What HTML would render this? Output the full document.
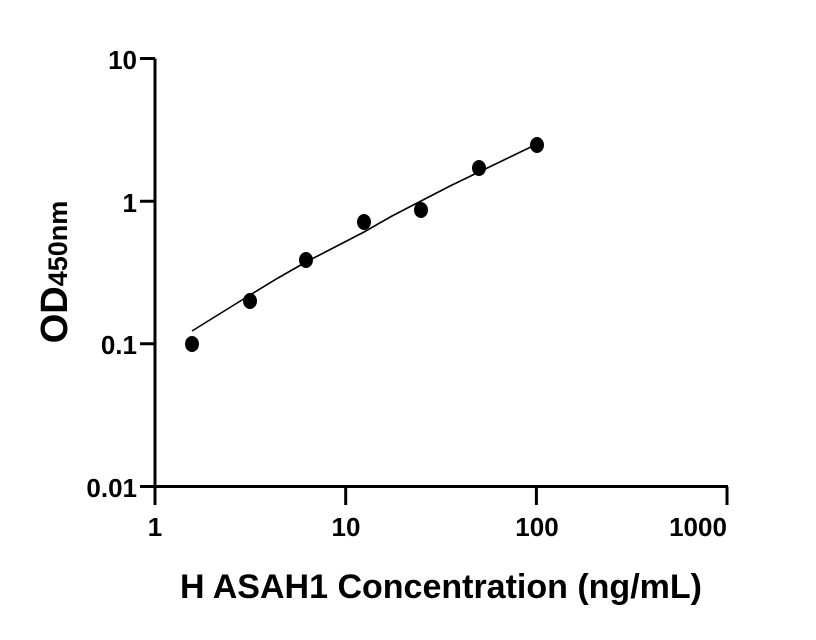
<!DOCTYPE html>
<html><head><style>body{margin:0;background:#fff}svg{display:block}text{font-family:"Liberation Sans",sans-serif;font-weight:bold;fill:#000}</style></head>
<body>
<svg width="816" height="640" viewBox="0 0 816 640" xmlns="http://www.w3.org/2000/svg">
<g stroke="#000" stroke-width="3" fill="none">
<path d="M155 58.5V486.5H728"/>
<path d="M140 58.5H155M140 201.2H155M140 343.8H155M140 486.5H155"/>
<path d="M155 486.5V505M345.7 486.5V505M536.4 486.5V505M727 486.5V505"/>
</g>
<polyline fill="none" stroke="#000" stroke-width="1.6" points="192,331 221,313 250,295 278,278 306,262 335,247 364,232 392,216 421,201 450,186 479,172 508,158 537,144"/>
<g fill="#000">
<ellipse cx="192" cy="344" rx="7" ry="8"/>
<ellipse cx="250" cy="301" rx="7" ry="8"/>
<ellipse cx="306" cy="260" rx="7" ry="8"/>
<ellipse cx="364" cy="222" rx="7" ry="8"/>
<ellipse cx="421" cy="210" rx="7" ry="8"/>
<ellipse cx="479" cy="168" rx="7" ry="8"/>
<ellipse cx="537" cy="145" rx="7" ry="8"/>
</g>
<g font-size="26" text-anchor="end">
<text x="137" y="69">10</text>
<text x="137" y="212">1</text>
<text x="137" y="354">0.1</text>
<text x="137" y="497">0.01</text>
</g>
<g font-size="26" text-anchor="middle">
<text x="155" y="536">1</text>
<text x="346" y="536">10</text>
<text x="537" y="536">100</text>
<text x="698" y="536">1000</text>
</g>
<text x="441" y="598" font-size="34" text-anchor="middle">H ASAH1 Concentration (ng/mL)</text>
<text transform="translate(67,272) rotate(-90)" font-size="38" text-anchor="middle">OD<tspan font-size="27">450nm</tspan></text>
</svg>
</body></html>
